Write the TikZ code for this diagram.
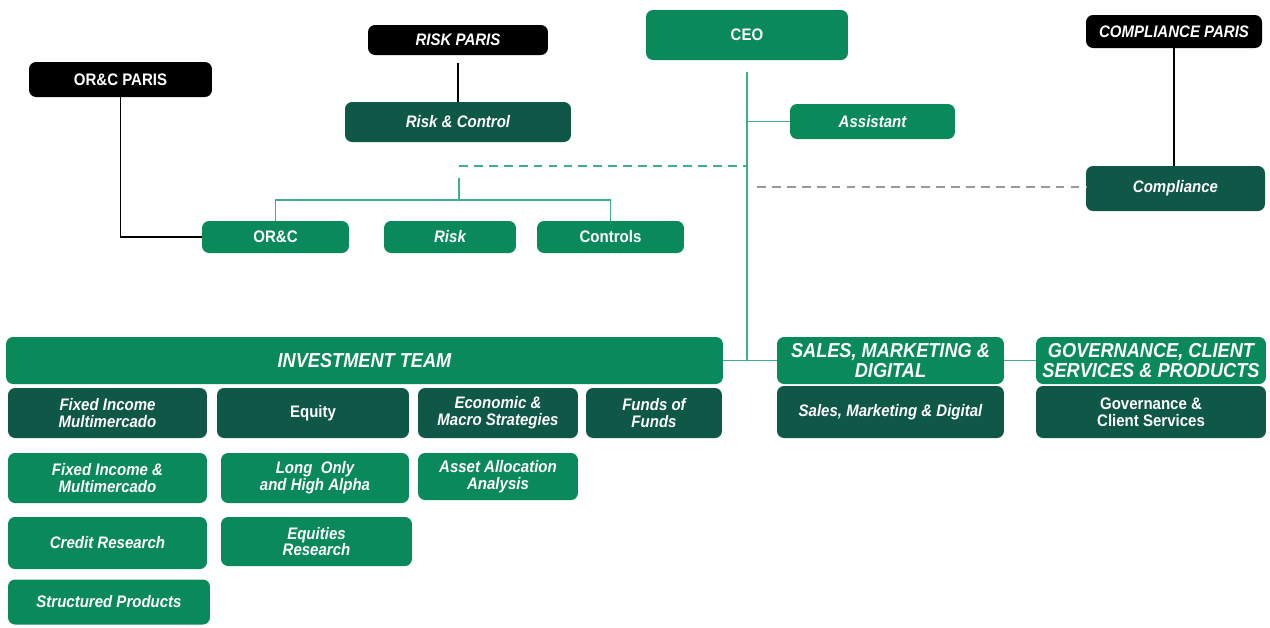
\documentclass[tikz,border=0pt]{standalone}
\usepackage{fontspec}
\newfontfamily\orgfont{Liberation Sans}[FakeStretch=0.9]
\usepackage{xcolor}
\usepackage{tikz}
\usetikzlibrary{positioning,calc}

\definecolor{orggreen}{RGB}{10,138,90}
\definecolor{orgdark}{RGB}{15,87,71}
\definecolor{orgline}{RGB}{61,176,138}

\begin{document}
\begin{tikzpicture}[x=0.02cm,y=-0.02cm,
  box/.style={rounded corners=4pt, text=white, align=center, inner sep=1pt,
    font=\orgfont\bfseries\itshape\fontsize{9.5}{9.5}\selectfont},
  upright/.style={font=\orgfont\bfseries\fontsize{9.5}{9.5}\selectfont},
  head/.style={font=\orgfont\bfseries\itshape\fontsize{11.5}{11.5}\selectfont},
  gbox/.style={box, fill=orggreen},
  dbox/.style={box, fill=orgdark},
  kbox/.style={box, fill=black},
  link/.style={draw=orgline, line width=1.1pt},
  paris/.style={draw=black, line width=0.8pt}]
\useasboundingbox (0,0) rectangle (1270,627);

% top of the chart
\node[gbox, upright, minimum width=4.04cm, minimum height=1.0cm] (ceo) at (747,35) {CEO};
\node[kbox, minimum width=3.6cm, minimum height=0.6cm] (riskparis) at (458,40) {RISK PARIS};
\node[kbox, upright, minimum width=3.66cm, minimum height=0.7cm] (orcparis) at (120.5,79.5) {OR\&C PARIS};
\node[kbox, minimum width=3.52cm, minimum height=0.66cm] (compparis) at (1174,31.5) {COMPLIANCE PARIS};
\node[dbox, minimum width=4.52cm, minimum height=0.8cm] (riskctrl) at (458,122) {Risk \& Control};
\node[gbox, minimum width=3.3cm, minimum height=0.7cm] (assistant) at (872.5,121.5) {Assistant};
\node[dbox, minimum width=3.58cm, minimum height=0.9cm] (compliance) at (1175.5,188.5) {Compliance};

% risk & control teams
\node[gbox, upright, minimum width=2.94cm, minimum height=0.64cm] (orc) at (275.5,237) {OR\&C};
\node[gbox, minimum width=2.64cm, minimum height=0.64cm] (risk) at (450,237) {Risk};
\node[gbox, upright, minimum width=2.94cm, minimum height=0.64cm] (controls) at (610.5,237) {Controls};

% investment team
\node[gbox, head, minimum width=14.34cm, minimum height=0.94cm] (invest) at (364.5,360.5) {INVESTMENT TEAM};
\node[dbox, minimum width=3.98cm, minimum height=1.0cm] (fimm) at (107.5,413) {Fixed Income\\Multimercado};
\node[dbox, upright, minimum width=3.84cm, minimum height=1.0cm] (equity) at (313,413) {Equity};
\node[dbox, minimum width=3.2cm, minimum height=1.0cm] (econ) at (498,413) {Economic \&\\Macro Strategies};
\node[dbox, minimum width=2.72cm, minimum height=1.0cm] (fof) at (654,413) {Funds of\\Funds};
\node[gbox, minimum width=3.98cm, minimum height=1.0cm] (fixinc) at (107.5,478) {Fixed Income \&\\Multimercado};
\node[gbox, minimum width=3.76cm, minimum height=1.0cm] (longonly) at (315,478) {Long\ \ Only\\and High Alpha};
\node[gbox, minimum width=3.2cm, minimum height=0.94cm] (assetalloc) at (498,476.5) {Asset Allocation\\Analysis};
\node[gbox, minimum width=3.98cm, minimum height=1.04cm] (credit) at (107.5,543) {Credit Research};
\node[gbox, minimum width=3.82cm, minimum height=0.98cm] (eqres) at (316.5,541.5) {Equities\\Research};
\node[gbox, minimum width=4.04cm, minimum height=0.9cm] (structured) at (109,602) {Structured Products};

% sales and governance
\node[gbox, head, minimum width=4.54cm, minimum height=0.94cm] (sales) at (890.5,360.5) {SALES, MARKETING \&\\DIGITAL};
\node[dbox, minimum width=4.54cm, minimum height=1.04cm] (salesdig) at (890.5,412) {Sales, Marketing \& Digital};
\node[gbox, head, minimum width=4.6cm, minimum height=0.94cm] (gov) at (1151,360.5) {GOVERNANCE, CLIENT\\SERVICES \& PRODUCTS};
\node[dbox, upright, minimum width=4.6cm, minimum height=1.04cm] (govcs) at (1151,412) {Governance \&\\Client Services};

% reporting lines
\coordinate (hub) at (ceo.south |- invest.east);
\draw[link, shorten <=0.24cm] (ceo.south) -- (hub);
\draw[link] (invest.east) -- (sales.west);
\draw[link] (sales.east) -- (gov.west);
\draw[link] (ceo.south |- assistant.west) -- (assistant.west);

% dotted line to risk & control
\coordinate (rcdash) at (459,166);
\coordinate (ceodash) at (748,166);
\coordinate (rcfork) at (459,178);
\coordinate (rcbar) at (459,200);
\draw[link, dash pattern=on 5pt off 3.5pt] (rcdash) -- (ceodash);
\draw[link] (rcfork) -- (rcbar);
\draw[link] (orc.north) |- (rcbar) -| (controls.north);

% compliance
\coordinate (compdash) at (757,187);
\draw[gray!80, line width=1pt, dash pattern=on 5pt off 3.5pt] (compdash) -- (compdash -| compliance.west);
\draw[paris] (compparis.south) -- (compparis.south |- compliance.north);

% paris lines
\draw[paris, shorten <=0.16cm] (riskparis.south) -- (riskctrl.north);
\draw[paris] (orcparis.south) |- (orc.west);
\end{tikzpicture}
\end{document}
